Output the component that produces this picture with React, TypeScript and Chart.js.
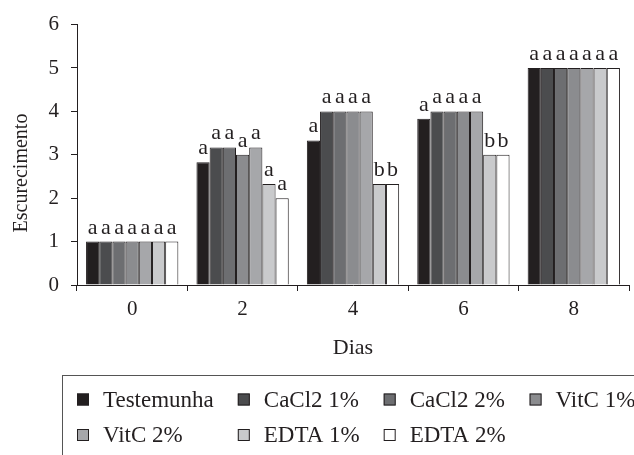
import React, { useEffect, useRef } from 'react';
import { Chart, registerables } from 'chart.js';

Chart.register(...registerables);

// ---- data ----
const categories = ['0', '2', '4', '6', '8'];
const seriesNames = ['Testemunha', 'CaCl2 1%', 'CaCl2 2%', 'VitC 1%', 'VitC 2%', 'EDTA 1%', 'EDTA 2%'];
const testemunha = [1, 2.83, 3.33, 3.83, 5];
const cacl2_1 = [1, 3.17, 4, 4, 5];
const cacl2_2 = [1, 3.17, 4, 4, 5];
const vitc_1 = [1, 3.0, 4, 4, 5];
const vitc_2 = [1, 3.17, 4, 4, 5];
const edta_1 = [1, 2.33, 2.33, 3, 5];
const edta_2 = [1, 2.0, 2.33, 3, 5];
const seriesValues = [testemunha, cacl2_1, cacl2_2, vitc_1, vitc_2, edta_1, edta_2];

// significance letters per series, one per day
const lettersTestemunha = ['a', 'a', 'a', 'a', 'a'];
const lettersCacl2_1 = ['a', 'a', 'a', 'a', 'a'];
const lettersCacl2_2 = ['a', 'a', 'a', 'a', 'a'];
const lettersVitc_1 = ['a', 'a', 'a', 'a', 'a'];
const lettersVitc_2 = ['a', 'a', 'a', 'a', 'a'];
const lettersEdta_1 = ['a', 'a', 'b', 'b', 'a'];
const lettersEdta_2 = ['a', 'a', 'b', 'b', 'a'];
const seriesLetters = [lettersTestemunha, lettersCacl2_1, lettersCacl2_2, lettersVitc_1, lettersVitc_2, lettersEdta_1, lettersEdta_2];

const yTicks = [0, 1, 2, 3, 4, 5, 6];
const yTitle = 'Escurecimento';
const xTitle = 'Dias';

// ---- styles ----
const seriesColors = ['#231f20', '#4b4c4e', '#6d6e71', '#8b8c8f', '#a6a7aa', '#c9cacc', '#ffffff'];
const INK = '#231f20';
const FONT = '"Liberation Serif", "DejaVu Serif", serif';

const lettersPlugin = {
  id: 'barLetters',
  afterDatasetsDraw(chart: any) {
    const ctx = chart.ctx;
    ctx.save();
    ctx.font = `22px ${FONT}`;
    ctx.fillStyle = INK;
    ctx.textAlign = 'center';
    ctx.textBaseline = 'alphabetic';
    chart.data.datasets.forEach((ds: any, i: number) => {
      const meta = chart.getDatasetMeta(i);
      meta.data.forEach((bar: any, j: number) => {
        const t = seriesLetters[i][j];
        if (t) ctx.fillText(t, bar.x, bar.y - 8);
      });
    });
    ctx.restore();
  },
};

const extrasPlugin = {
  id: 'extras',
  afterDraw(chart: any) {
    const ctx = chart.ctx;
    const area = chart.chartArea;
    ctx.save();
    // y-axis title
    ctx.font = `20px ${FONT}`;
    ctx.fillStyle = INK;
    ctx.textAlign = 'center';
    ctx.textBaseline = 'middle';
    ctx.translate(22, area.top + (area.bottom - area.top) * 0.57);
    ctx.rotate(-Math.PI / 2);
    ctx.fillText(yTitle, 0, 0);
    ctx.restore();

    // legend in a grid, in a box cut by the page edges
    ctx.save();
    const boxLeft = 62.5;
    const boxTop = 375.5;
    ctx.strokeStyle = '#555555';
    ctx.lineWidth = 1;
    ctx.strokeRect(boxLeft, boxTop, chart.width + 20, chart.height);
    ctx.font = `23px ${FONT}`;
    const cols = 4;
    const widths: number[] = [];
    chart.data.datasets.forEach((ds: any, i: number) => {
      const c = i % cols;
      widths[c] = Math.max(widths[c] || 0, ctx.measureText(ds.label).width);
    });
    const colX: number[] = [77];
    for (let c = 0; c < cols; c++) colX[c + 1] = colX[c] + 26 + widths[c] + 24;
    const rowY = [399.5, 435];
    ctx.textAlign = 'left';
    ctx.textBaseline = 'middle';
    chart.data.datasets.forEach((ds: any, i: number) => {
      const c = i % cols;
      const r = Math.floor(i / cols);
      const x = colX[c];
      const y = rowY[r];
      ctx.fillStyle = ds.backgroundColor;
      ctx.fillRect(x, y - 6, 12, 12);
      ctx.strokeStyle = INK;
      ctx.lineWidth = 1;
      ctx.strokeRect(x + 0.5, y - 5.5, 11, 11);
      ctx.fillStyle = INK;
      ctx.fillText(ds.label, x + 26, y + 1);
    });
    ctx.restore();
  },
};

export default function App() {
  const ref = useRef<HTMLCanvasElement | null>(null);
  useEffect(() => {
    document.body.style.margin = '0';
    const canvas = ref.current;
    if (!canvas) return;
    const chart = new Chart(canvas, {
      type: 'bar',
      data: {
        labels: categories,
        datasets: seriesNames.map((name, i) => ({
          label: name,
          data: seriesValues[i],
          backgroundColor: seriesColors[i],
          borderColor: INK,
          borderWidth: 1,
          categoryPercentage: 0.836,
          barPercentage: 1.0,
        })),
      },
      options: {
        animation: false,
        responsive: false,
        devicePixelRatio: 1,
        layout: { padding: { top: 23, right: 5, bottom: 80, left: 0 } },
        plugins: {
          legend: { display: false },
          tooltip: { enabled: false },
        },
        scales: {
          x: {
            grid: { display: true, drawOnChartArea: false, drawTicks: true, tickLength: 6, color: INK, offset: true },
            border: { display: true, color: INK, width: 1 },
            ticks: { color: INK, font: { family: FONT, size: 21 }, padding: 6 },
            title: { display: true, text: xTitle, color: INK, font: { family: FONT, size: 22 }, padding: { top: 0, bottom: 14 } },
            afterFit: (scale: any) => { scale.height = 90; },
          },
          y: {
            min: 0,
            max: 6,
            afterBuildTicks: (scale: any) => { scale.ticks = yTicks.map((v) => ({ value: v })); },
            grid: { display: true, drawOnChartArea: false, drawTicks: true, tickLength: 6, color: INK },
            border: { display: true, color: INK, width: 1 },
            ticks: { color: INK, font: { family: FONT, size: 21 }, padding: 12 },
            afterFit: (scale: any) => { scale.width = 77; },
          },
        },
      },
      plugins: [lettersPlugin, extrasPlugin],
    } as any);
    return () => chart.destroy();
  }, []);
  return (
    <div style={{ position: 'absolute', left: 0, top: 0, width: 634, height: 455, background: '#fff' }}>
      <canvas ref={ref} width={634} height={455} />
    </div>
  );
}
